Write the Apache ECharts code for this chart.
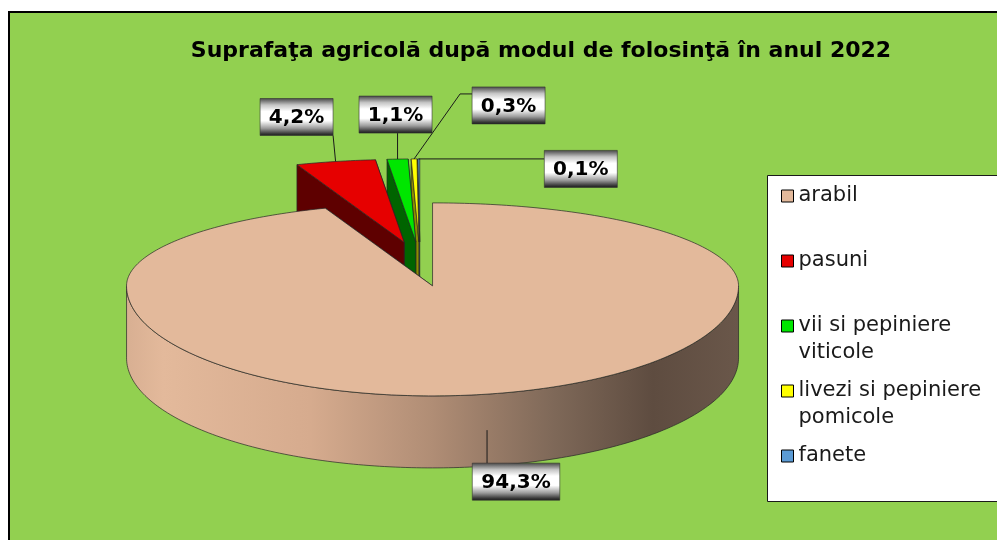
<!DOCTYPE html>
<html><head><meta charset="utf-8">
<script src="https://cdn.jsdelivr.net/npm/echarts/dist/echarts.min.js"></script>
<style>html,body{margin:0;padding:0;background:#fff}#c{width:997px;height:540px}</style>
</head><body><div id="c"></div>
<script>
// ---- data ----
const categories = ['arabil', 'pasuni', 'vii si pepiniere\nviticole', 'livezi si pepiniere\npomicole', 'fanete'];
const shares = [94.3, 4.2, 1.1, 0.3, 0.1];
const chartTitle = 'Suprafaţa agricolă după modul de folosinţă în anul 2022';

// ---- styles / layout ----
const topColors = ['#E3B99B', '#E60000', '#00E600', '#FFFF00', '#5B9BD5'];
const faceColors = ['#B48F76', '#5E0000', '#006400', '#8C8C00', '#2E5E8E'];
const drawOrder = [4, 3, 2, 1, 0];
const wallStops = [
  { offset: 0, color: '#D8AF92' }, { offset: 0.06, color: '#E3B99B' },
  { offset: 0.3, color: '#D6AB8E' }, { offset: 0.5, color: '#B08D75' },
  { offset: 0.7, color: '#7E6858' }, { offset: 0.86, color: '#5E4C40' },
  { offset: 1, color: '#6A574A' }
];
const boxStops = [
  { offset: 0, color: '#444444' }, { offset: 0.18, color: '#c4c4c4' },
  { offset: 0.35, color: '#ffffff' }, { offset: 0.6, color: '#ffffff' },
  { offset: 0.8, color: '#9c9c9c' }, { offset: 0.94, color: '#3a3a3a' },
  { offset: 1, color: '#1a1a1a' }
];
const labelPlacement = [
  { dx: 29, dy: 51.5 },
  { dx: -39, dy: -44.5 },
  { dx: -2, dy: -44.5 },
  { dx: 94.5, dy: -53.5, elbow: true },
  { dx: 162, dy: 10 }
];
const PIE = { cx: 420, cy: 261, rx: 306, ryTop: 83, ryBot: 110, depth: 72, explode: 0.23 };

function ex(a) { return PIE.rx * Math.sin(a); }
function ey(a) { const c = Math.cos(a); return c >= 0 ? -PIE.ryTop * c : -PIE.ryBot * c; }
function arc(ox, oy, a1, a2, dy) {
  const pts = [];
  const n = Math.max(2, Math.ceil((a2 - a1) / (Math.PI / 180)) + 1);
  for (let k = 0; k < n; k++) {
    const a = a1 + (a2 - a1) * k / (n - 1);
    pts.push([ox + ex(a), oy + ey(a) + dy]);
  }
  return pts;
}
function clamp(v, lo, hi) { return Math.max(lo, Math.min(hi, v)); }

function makeRender(idx) {
  return function (params, api) {
    const total = shares.reduce((s, v) => s + v, 0);
    let before = 0;
    for (let k = 0; k < idx; k++) before += shares[k];
    const val = api.value(0);
    const a1 = before / total * 2 * Math.PI;
    const a2 = (before + val) / total * 2 * Math.PI;
    const mid = (a1 + a2) / 2;
    const ox = PIE.cx + PIE.explode * ex(mid);
    const oy = PIE.cy + PIE.explode * ey(mid);
    const d = PIE.depth;
    const top = api.visual('color');
    const face = faceColors[idx];
    const stroke = { stroke: '#262626', lineWidth: 0.7, lineJoin: 'round' };
    const back = [], front = [];
    function radial(a, isStart) {
      const s = Math.sin(a);
      if (Math.abs(s) < 1e-6) return;
      const visible = isStart ? s < 0 : s > 0;
      const px = ox + ex(a), py = oy + ey(a);
      const poly = { type: 'polygon', shape: { points: [[ox, oy], [px, py], [px, py + d], [ox, oy + d]] },
        style: Object.assign({ fill: face }, stroke) };
      (visible ? front : back).push(poly);
    }
    radial(a2, false); radial(a1, true);
    const children = back.concat(front);
    const w1 = Math.max(a1, Math.PI / 2), w2 = Math.min(a2, 3 * Math.PI / 2);
    if (w2 > w1) {
      const upper = arc(ox, oy, w1, w2, 0);
      const lower = arc(ox, oy, w1, w2, d).reverse();
      const fill = idx === 0
        ? new echarts.graphic.LinearGradient(ox - PIE.rx, 0, ox + PIE.rx, 0, wallStops, true)
        : face;
      children.push({ type: 'polygon', shape: { points: upper.concat(lower) }, style: Object.assign({ fill: fill }, stroke) });
    }
    children.push({ type: 'polygon', shape: { points: [[ox, oy]].concat(arc(ox, oy, a1, a2, 0)) },
      style: Object.assign({ fill: top }, stroke) });

    // label
    const isFront = Math.cos(mid) < 0;
    const ax = ox + ex(mid), ay = oy + ey(mid) + (isFront ? d / 2 : 0);
    const text = val.toFixed(1).replace('.', ',') + '%';
    const lp = labelPlacement[idx];
    const bw = text.length * 14.5 + 15, bh = 37;
    const bx = ax + lp.dx - bw / 2, by = ay + lp.dy - bh / 2;
    const linePts = lp.elbow
      ? [[ax, ay], [bx - 12, by + 7], [bx, by + 7]]
      : [[ax, ay], [clamp(ax, bx, bx + bw), clamp(ay, by, by + bh)]];
    children.push({ type: 'polyline', shape: { points: linePts }, style: { stroke: '#1a1a1a', lineWidth: 1, fill: null } });
    children.push({ type: 'rect', shape: { x: bx, y: by, width: bw, height: bh },
      style: { fill: new echarts.graphic.LinearGradient(0, 0, 0, 1, boxStops), stroke: '#333', lineWidth: 0.6 } });
    children.push({ type: 'text', x: bx + bw / 2, y: by + bh / 2 + 1,
      style: { text: text, align: 'center', verticalAlign: 'middle', font: 'bold 20px "DejaVu Sans"', fill: '#000' } });
    return { type: 'group', children: children };
  };
}

const chart = echarts.init(document.getElementById('c'), null, { renderer: 'canvas' });
chart.setOption({
  animation: false,
  backgroundColor: '#ffffff',
  title: {
    text: chartTitle, left: 541, top: 40, textAlign: 'center', padding: 0,
    textStyle: { fontFamily: 'DejaVu Sans', fontWeight: 'bold', fontSize: 22, color: '#000' }
  },
  graphic: [
    { type: 'rect', z: -10, shape: { x: 9, y: 12, width: 1000, height: 540 },
      style: { fill: '#92D050', stroke: '#000', lineWidth: 2 } },
    { type: 'rect', z: 1, shape: { x: 767.5, y: 175.5, width: 240, height: 326 },
      style: { fill: '#ffffff', stroke: '#1a1a1a', lineWidth: 1 } }
  ],
  legend: {
    data: categories,
    orient: 'vertical', left: 781, top: 182, padding: 0,
    itemWidth: 12, itemHeight: 38, itemGap: 11,
    icon: 'path://M0,0H12V12H0Z M0,38',
    itemStyle: { borderColor: '#000', borderWidth: 1 },
    textStyle: { fontFamily: 'DejaVu Sans', fontSize: 21, color: '#1a1a1a', lineHeight: 27 },
    formatter: function (n) { return n.indexOf('\n') >= 0 ? n : n + '\n '; },
    selectedMode: false
  },
  series: drawOrder.map(function (i) {
    return {
      type: 'custom', name: categories[i], coordinateSystem: 'none',
      z: 2,
      data: [[shares[i]]],
      itemStyle: { color: topColors[i], borderColor: '#000', borderWidth: 1 },
      renderItem: makeRender(i)
    };
  })
});
</script>
</body></html>
